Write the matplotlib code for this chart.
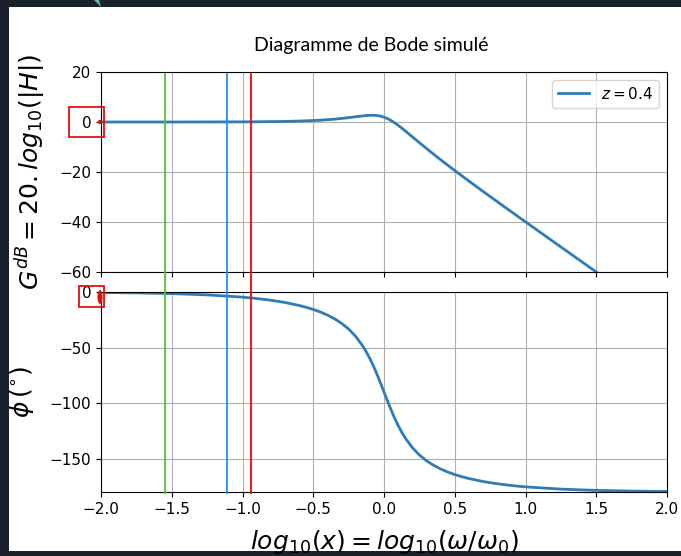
import matplotlib.pyplot as plt
import matplotlib.transforms as mtransforms
from matplotlib.patches import Rectangle, Ellipse, Polygon
from matplotlib.lines import Line2D

# ------------------------------------------------------------------
# Data (z = 0.4)
# ------------------------------------------------------------------
log_x = [-2.0, -1.75, -1.5, -1.25, -1.0, -0.9, -0.8, -0.7, -0.6, -0.55,
         -0.5, -0.45, -0.4, -0.35, -0.3, -0.25, -0.2, -0.15, -0.125, -0.1,
         -0.075, -0.05, -0.025, 0.0, 0.025, 0.05, 0.075, 0.1, 0.125, 0.15,
         0.2, 0.25, 0.3, 0.35, 0.4, 0.45, 0.5, 0.55, 0.6, 0.7,
         0.8, 0.9, 1.0, 1.25, 1.5, 1.75, 2.0]

gain_db = [0.0, 0.0, 0.01, 0.02, 0.06, 0.09, 0.15, 0.23, 0.37, 0.47,
           0.59, 0.73, 0.92, 1.14, 1.42, 1.74, 2.10, 2.44, 2.59, 2.68,
           2.69, 2.59, 2.35, 1.94, 1.35, 0.59, -0.31, -1.32, -2.42, -3.56,
           -5.90, -8.26, -10.58, -12.86, -15.08, -17.27, -19.42, -21.53, -23.63, -27.77,
           -31.85, -35.91, -39.94, -49.98, -59.99, -70.0, -80.0]

phase_deg = [-0.46, -0.82, -1.45, -2.58, -4.62, -5.84, -7.41, -9.44, -12.11, -13.76,
             -15.70, -17.99, -20.73, -24.06, -28.17, -33.34, -39.98, -48.63, -53.89, -59.86,
             -66.54, -73.91, -81.81, -90.0, -98.19, -106.09, -113.46, -120.14, -126.11, -131.37,
             -140.02, -146.66, -151.83, -155.94, -159.27, -162.01, -164.30, -166.24, -167.89, -170.56,
             -172.59, -174.16, -175.38, -177.42, -178.55, -179.18, -179.54]

# vertical markers (log10 of frequency ratio)
marker_pos = [-1.55, -1.11, -0.94]
marker_colors = ["#55c234", "#1e90ff", "#ff0000"]

# ------------------------------------------------------------------
# Figure
# ------------------------------------------------------------------
W, H = 681, 556
fig = plt.figure(figsize=(W / 100, H / 100), dpi=100)
fig.patch.set_facecolor("#1a202c")


def px(x0, y0):
    return x0 / W, 1 - y0 / H


# white page area of the screenshot
fig.add_artist(Rectangle(px(9, 551), (W - 9) / W, 544 / H,
                         transform=fig.transFigure, facecolor="white",
                         edgecolor="none", zorder=-10))
fig.add_artist(Polygon([px(94, 0), px(99, 0), px(101, 7)],
                       closed=True, transform=fig.transFigure,
                       facecolor="#5fb89a", edgecolor="none"))

ax1 = fig.add_axes([101 / W, 1 - 272 / H, 566 / W, 200 / H])
ax2 = fig.add_axes([101 / W, 1 - 492 / H, 566 / W, 200 / H], sharex=ax1)

ax1.plot(log_x, gain_db, color="#2e7bb6", linewidth=2, label="$z = 0.4$")
ax1.set_xlim(-2, 2)
ax1.set_ylim(-60, 20)
ax1.set_yticks([20, 0, -20, -40, -60])
ax1.grid(True, color="#b0b0b0")
ax1.tick_params(labelbottom=False, labelsize=11)
ax1.legend(loc="upper right", fontsize=11)
ax1.set_ylabel("$G^{dB} = 20.log_{10}(|H|)$", fontsize=18, labelpad=8)

ax2.plot(log_x, phase_deg, color="#2e7bb6", linewidth=2)
ax2.set_ylim(-180, 0)
ax2.set_yticks([0, -50, -100, -150])
ax2.set_xticks([-2.0, -1.5, -1.0, -0.5, 0.0, 0.5, 1.0, 1.5, 2.0])
ax2.grid(True, color="#b0b0b0")
ax2.tick_params(labelsize=11)
ax2.set_ylabel(r"$\phi\,(^{\circ})$", fontsize=18, labelpad=10)
ax2.set_xlabel(r"$log_{10}(x) = log_{10}(\omega/\omega_0)$", fontsize=18,
               labelpad=8)

fig.text(371 / W, 1 - 46 / H, "Diagramme de Bode simulé", family="Lato",
         fontsize=14, ha="center", va="center")

# vertical markers across both panels
trans = mtransforms.blended_transform_factory(ax1.transData, fig.transFigure)
for xm, c in zip(marker_pos, marker_colors):
    fig.add_artist(Line2D([xm, xm], [1 - 74 / H, 1 - 493 / H],
                          transform=trans, color=c, linewidth=1.3))

# red annotation boxes
fig.add_artist(Rectangle(px(69, 137), 35 / W, 30 / H, transform=fig.transFigure,
                         fill=False, edgecolor="#e01010", linewidth=1.3))
fig.add_artist(Ellipse(px(100, 122), 5 / W, 4 / H, transform=fig.transFigure,
                       facecolor="#e01010", edgecolor="none"))
fig.add_artist(Rectangle(px(79, 307), 25 / W, 21 / H, transform=fig.transFigure,
                         fill=False, edgecolor="#e01010", linewidth=1.3))
fig.add_artist(Ellipse(px(100, 297), 5 / W, 14 / H, transform=fig.transFigure,
                       facecolor="#e01010", edgecolor="none"))

fig.savefig("out.png", dpi=100, facecolor=fig.get_facecolor())
